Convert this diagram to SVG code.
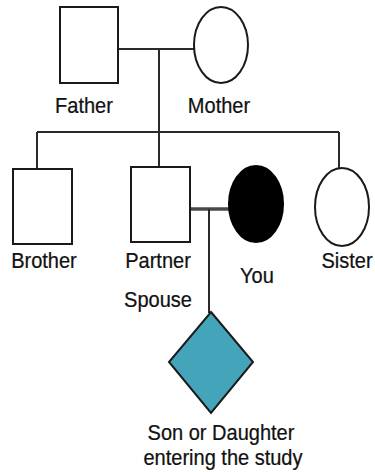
<svg xmlns="http://www.w3.org/2000/svg" width="375" height="472" viewBox="0 0 375 472">
  <style>
    .sym { fill: #ffffff; stroke: #1a1a1a; stroke-width: 2; }
    .aff { fill: #000000; stroke: #000000; stroke-width: 2; }
    .child { fill: #44a5ba; stroke: #1a1a1a; stroke-width: 2; }
    .line { fill: none; stroke: #2a2a2a; stroke-width: 2; }
    .couple { fill: none; stroke: #4a4a4a; stroke-width: 3.5; }
    .lbl { font-family: "Liberation Sans", Arial, sans-serif; font-size: 22px; fill: #111111; stroke: #111111; stroke-width: 0.25; text-anchor: middle; }
  </style>
  <rect width="375" height="472" fill="#ffffff"/>

  <!-- connectors -->
  <g id="connectors">
    <path class="line" d="M118 49 H194"/>
    <path class="line" d="M159 49 V167"/>
    <path class="line" d="M37 132 H339"/>
    <path class="line" d="M37 132 V169"/>
    <path class="line" d="M339 132 V168"/>
    <path class="couple" d="M190 209 H229"/>
    <path class="line" d="M209 209 V313"/>
  </g>

  <g id="father">
    <rect class="sym" x="60" y="7" width="58" height="76"/>
    <text class="lbl" x="84" y="113" transform="translate(84 0) scale(0.91 1) translate(-84 0)">Father</text>
  </g>

  <g id="mother">
    <ellipse class="sym" cx="221" cy="45" rx="27" ry="38"/>
    <text class="lbl" x="219" y="113" transform="translate(219 0) scale(0.91 1) translate(-219 0)">Mother</text>
  </g>

  <g id="brother">
    <rect class="sym" x="13" y="169" width="59" height="75"/>
    <text class="lbl" x="44" y="268" transform="translate(44 0) scale(0.91 1) translate(-44 0)">Brother</text>
  </g>

  <g id="partner">
    <rect class="sym" x="131" y="167" width="59" height="75"/>
    <text class="lbl" x="158" y="268" transform="translate(158 0) scale(0.91 1) translate(-158 0)">Partner</text>
    <text class="lbl" x="158" y="307" transform="translate(158 0) scale(0.91 1) translate(-158 0)">Spouse</text>
  </g>

  <g id="you">
    <ellipse class="aff" cx="256" cy="204" rx="27" ry="38"/>
    <text class="lbl" x="257" y="283" transform="translate(257 0) scale(0.91 1) translate(-257 0)">You</text>
  </g>

  <g id="sister">
    <ellipse class="sym" cx="342" cy="207" rx="27" ry="39"/>
    <text class="lbl" x="347" y="268" transform="translate(347 0) scale(0.91 1) translate(-347 0)">Sister</text>
  </g>

  <g id="son-or-daughter">
    <polygon class="child" points="211,312 253,362 211,413 169,362"/>
    <text class="lbl" x="221" y="440" transform="translate(221 0) scale(0.91 1) translate(-221 0)">Son or Daughter</text>
    <text class="lbl" x="223" y="465" transform="translate(223 0) scale(0.91 1) translate(-223 0)">entering the study</text>
  </g>
</svg>
